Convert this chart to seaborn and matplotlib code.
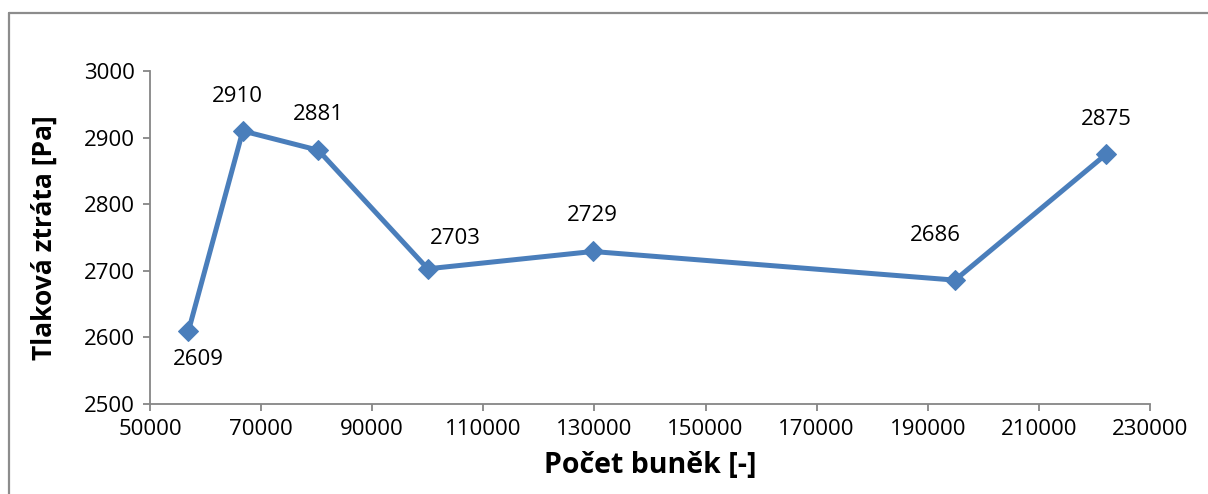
import matplotlib
matplotlib.use("Agg")
import matplotlib.pyplot as plt
import seaborn as sns
import pandas as pd
from matplotlib.lines import Line2D

# Mesh-independence study: pressure loss vs. number of cells
cells = [56900, 66700, 80300, 100000, 129700, 194900, 222100]
pressure_loss = [2609, 2910, 2881, 2703, 2729, 2686, 2875]
x_ticks = [50000, 70000, 90000, 110000, 130000, 150000, 170000, 190000, 210000, 230000]
y_ticks = [2500, 2600, 2700, 2800, 2900, 3000]
# label offsets (points) relative to each marker
label_offsets = [(7, -20), (-4, 25), (0, 26), (20, 22), (0, 26), (-14, 32), (0, 25)]

df = pd.DataFrame({"cells": cells, "loss": pressure_loss})

sns.set_style("white")
plt.rcParams["font.family"] = ["Open Sans", "DejaVu Sans"]

W, H = 1208, 494
fig = plt.figure(figsize=(W / 100, H / 100), dpi=100)
ax = fig.add_axes([150 / W, 1 - 404 / H, 1000 / W, 333 / H])

blue = "#4A7EBB"
sns.lineplot(data=df, x="cells", y="loss", ax=ax, color=blue, linewidth=3.6,
             marker="D", markersize=10.5, markeredgecolor=blue, markerfacecolor=blue)

for xv, yv, (dx, dy) in zip(cells, pressure_loss, label_offsets):
    ax.annotate(str(yv), (xv, yv), xytext=(dx, dy), textcoords="offset points",
                ha="center", va="center", fontsize=16, color="black")

ax.set_xlim(50000, 230000)
ax.set_ylim(2500, 3000)
ax.set_xticks(x_ticks)
ax.set_yticks(y_ticks)
ax.set_xticklabels([str(t) for t in x_ticks])
ax.set_yticklabels([str(t) for t in y_ticks])
ax.tick_params(axis="both", labelsize=16, colors="#868686", labelcolor="black",
               direction="out", length=5, width=1.3, pad=6)
ax.tick_params(axis="x", bottom=True)
ax.tick_params(axis="y", left=True)

for side in ["top", "right"]:
    ax.spines[side].set_visible(False)
for side in ["left", "bottom"]:
    ax.spines[side].set_color("#868686")
    ax.spines[side].set_linewidth(1.3)

ax.set_xlabel("Počet buněk [-]", fontsize=20.5, fontweight="bold", labelpad=8, color="black")
ax.set_ylabel("Tlaková ztráta [Pa]", fontsize=19, fontweight="bold", labelpad=19, color="black")

# chart area frame (left and top edges)
fig.add_artist(Line2D([9 / W, 9 / W], [0, 1 - 13 / H], transform=fig.transFigure,
                      color="#8c8c8c", linewidth=1.6))
fig.add_artist(Line2D([9 / W, 1], [1 - 13 / H, 1 - 13 / H], transform=fig.transFigure,
                      color="#8c8c8c", linewidth=1.6))

fig.savefig("out.png", dpi=100)
